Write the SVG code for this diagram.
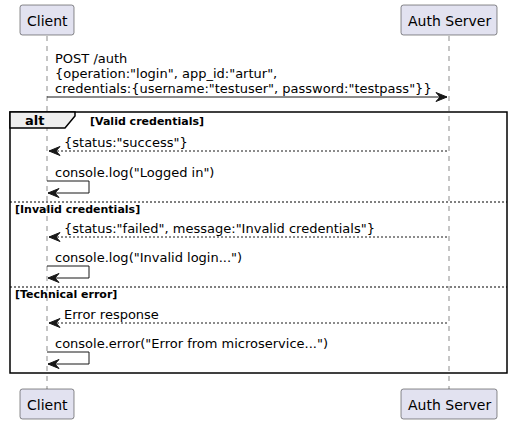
<svg xmlns="http://www.w3.org/2000/svg" width="513" height="424" viewBox="0 0 513 424">
<style>
text{font-family:"DejaVu Sans","Liberation Sans",sans-serif;fill:#000}
.p{fill:#E2E2F0;stroke:#181818;stroke-width:0.5}
.pt{font-size:14px}
.m{font-size:13px}
.g{font-size:11px;font-weight:bold}
.life{stroke:#181818;stroke-width:0.5;stroke-dasharray:5,5}
.ln{stroke:#181818;stroke-width:1;fill:none}
.dash{stroke:#181818;stroke-width:1;stroke-dasharray:2,2;fill:none}
.ah{fill:#181818;stroke:#181818;stroke-width:1;stroke-linejoin:miter}
.sep{stroke:#000;stroke-width:1;stroke-dasharray:2,2}
</style>
<g id="lifelines">
<line class="life" x1="47" y1="36" x2="47" y2="389"/>
<line class="life" x1="449" y1="36" x2="449" y2="389"/>
</g>
<g id="alt-frame">
<rect x="10" y="112" width="497" height="261" fill="none" stroke="#000" stroke-width="1.5"/>
<polygon points="10,112 75,112 75,116 65,128 10,128" fill="#EEEEEE" stroke="#000" stroke-width="1.5"/>
<text x="25" y="125" style="font-size:13px;font-weight:bold">alt</text>
<text class="g" x="90" y="124.5">[Valid credentials]</text>
<line class="sep" x1="10" y1="202" x2="507" y2="202"/>
<text class="g" x="15" y="213">[Invalid credentials]</text>
<line class="sep" x1="10" y1="287" x2="507" y2="287"/>
<text class="g" x="15" y="298">[Technical error]</text>
</g>
<g id="client-top"><rect class="p" x="20" y="5" width="54" height="30" rx="2.5"/><text class="pt" x="27" y="25.5">Client</text></g>
<g id="auth-top"><rect class="p" x="401" y="5" width="96" height="30" rx="2.5"/><text class="pt" x="408" y="25.5">Auth Server</text></g>
<g id="client-bottom"><rect class="p" x="20" y="389" width="54" height="30" rx="2.5"/><text class="pt" x="27" y="409.5">Client</text></g>
<g id="auth-bottom"><rect class="p" x="401" y="389" width="96" height="30" rx="2.5"/><text class="pt" x="408" y="409.5">Auth Server</text></g>
<g id="connectors">
<line class="ln" x1="47" y1="97" x2="447" y2="97"/>
<polygon class="ah" points="436,92.5 447,97 436,101.5 440,97"/>
<text class="m" x="55" y="63">POST /auth</text>
<text class="m" x="55" y="78">{operation:"login", app_id:"artur",</text>
<text class="m" x="55" y="93">credentials:{username:"testuser", password:"testpass"}}</text>

<line class="dash" x1="49" y1="151" x2="449" y2="151"/>
<polygon class="ah" points="60,146.5 49,151 60,155.5 56,151"/>
<text class="m" x="64" y="146.5">{status:"success"}</text>

<polyline class="ln" points="47,181 89,181 89,193 48,193"/>
<polygon class="ah" points="59,188.5 48,193 59,197.5 55,193"/>
<text class="m" x="55" y="176.5">console.log("Logged in")</text>

<line class="dash" x1="49" y1="237" x2="449" y2="237"/>
<polygon class="ah" points="60,232.5 49,237 60,241.5 56,237"/>
<text class="m" x="64" y="232.5">{status:"failed", message:"Invalid credentials"}</text>

<polyline class="ln" points="47,266 89,266 89,278 48,278"/>
<polygon class="ah" points="59,273.5 48,278 59,282.5 55,278"/>
<text class="m" x="55" y="261.5">console.log("Invalid login...")</text>

<line class="dash" x1="49" y1="323" x2="449" y2="323"/>
<polygon class="ah" points="60,318.5 49,323 60,327.5 56,323"/>
<text class="m" x="64" y="318.5">Error response</text>

<polyline class="ln" points="47,352 89,352 89,364 48,364"/>
<polygon class="ah" points="59,359.5 48,364 59,368.5 55,364"/>
<text class="m" x="55" y="347.5">console.error("Error from microservice...")</text>
</g>
</svg>
